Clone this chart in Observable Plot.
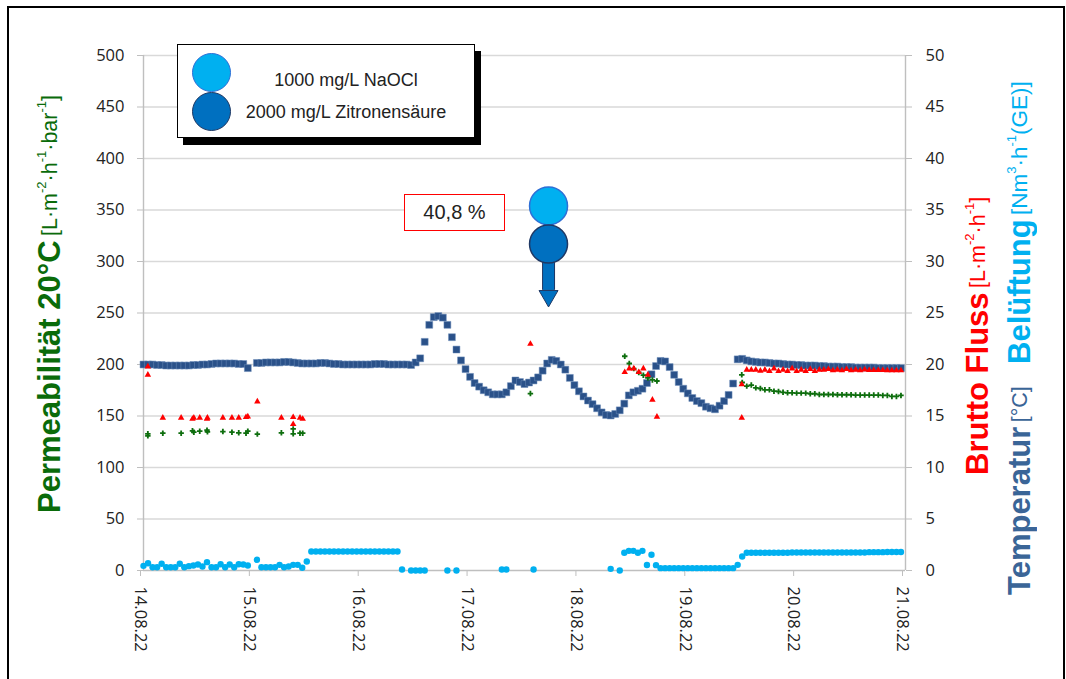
<!DOCTYPE html>
<html>
<head>
<meta charset="utf-8">
<script src="https://cdn.jsdelivr.net/npm/d3@7"></script>
<script src="https://cdn.jsdelivr.net/npm/@observablehq/plot@0.6"></script>
<style>
  html, body { margin: 0; padding: 0; background: #fff; }
  #wrap { position: relative; width: 1066px; height: 679px; overflow: hidden; background: #fff; }
  #chart { position: absolute; left: 0; top: 0; }
  #frame { position: absolute; left: 7px; top: 6px; width: 1054px; height: 700px; border: 2px solid #000; pointer-events: none; }
  .vt { position: absolute; writing-mode: vertical-rl; transform: rotate(180deg); text-align: center; white-space: nowrap; font-family: "Liberation Sans", Arial, sans-serif; }
  .vt b { font-size: 31px; font-weight: bold; }
  .vt .u { font-size: 21.5px; }
  .vt sup { font-size: 13px; vertical-align: 8px; line-height: 0; }
  #legend { position: absolute; left: 177px; top: 44px; width: 296px; height: 92px; border: 1px solid #000; background: #fff; box-shadow: 6px 7px 0 #000; font-family: "Liberation Sans", Arial, sans-serif; font-size: 18px; color: #222; }
  .lc { position: absolute; width: 37px; height: 37px; border-radius: 50%; }
  .lt { position: absolute; left: 40px; width: 256px; text-align: center; }
  #pct { position: absolute; left: 404px; top: 194px; width: 99px; height: 35px; border: 1px solid #ff0000; background: #fff; font-family: "Liberation Sans", Arial, sans-serif; font-size: 20px; color: #222; text-align: center; line-height: 35px; }
</style>
</head>
<body>
<div id="wrap">
  <div id="chart"></div>
  <div id="frame"></div>
  <div class="vt" style="left:28px; top:34px; width:44px; height:540px; line-height:44px; color:#0a6b0a;"><b>Permeabilität 20°C</b> <span class="u">[L·m<sup>-2</sup>·h<sup>-1</sup>·bar<sup>-1</sup>]</span></div>
  <div class="vt" style="left:956px; top:56px; width:44px; height:560px; line-height:44px; color:#ff0000;"><b>Brutto Fluss</b> <span class="u">[L·m<sup>-2</sup>·h<sup>-1</sup>]</span></div>
  <div class="vt" style="left:998px; top:58px; width:44px; height:560px; line-height:44px;"><b style="color:#3a6597">Temperatur</b> <span class="u" style="color:#3a6597">[°C]</span>&nbsp;&nbsp;&nbsp;&nbsp; <b style="color:#00b0f0">Belüftung</b> <span class="u" style="color:#00b0f0; font-size:22.5px">[Nm<sup>3</sup>·h<sup>-1</sup>(GE)]</span></div>
  <div id="legend">
    <div class="lc" style="left:14px; top:8px; background:#00b0f0; border:1.5px solid #2e6fd6;"></div>
    <div class="lc" style="left:14px; top:47px; background:#0070c0; border:1.5px solid #1f3864;"></div>
    <div class="lt" style="top:25px;">1000 mg/L NaOCl</div>
    <div class="lt" style="top:57px;">2000 mg/L Zitronensäure</div>
  </div>
  <div id="pct">40,8 %</div>
</div>
<script>
// ---------- data ----------
// hours since 14.08.22 00:00
const startDate = "2022-08-14";
const endDate = "2022-08-21";
const dayTickLabels = ["14.08.22","15.08.22","16.08.22","17.08.22","18.08.22","19.08.22","20.08.22","21.08.22"];
const leftTicks = [0,50,100,150,200,250,300,350,400,450,500];
const rightTicks = [0,5,10,15,20,25,30,35,40,45,50];

// Temperatur [°C], hourly
const temperature = [
  20.0,20.0,20.0,19.95,19.95,19.9,19.9,19.9,19.9,19.9,
  19.9,19.95,19.95,20.0,20.0,20.05,20.1,20.1,20.1,20.1,
  20.1,20.05,20.05,19.65,null,20.15,20.15,20.2,20.2,20.2,
  20.2,20.25,20.25,20.2,20.15,20.1,20.1,20.1,20.1,20.15,
  20.15,20.1,20.05,20.05,20.0,20.0,20.0,20.0,20.0,20.0,
  20.0,20.05,20.05,20.05,20.0,20.0,20.0,20.0,20.0,19.95,
  20.2,20.6,22.2,23.85,24.6,24.7,24.55,23.85,22.65,21.45,
  20.4,19.55,18.8,18.2,17.85,17.5,17.3,17.1,17.1,17.1,
  17.3,17.9,18.45,18.3,18.1,18.25,18.45,18.75,19.4,20.1,
  20.45,20.35,20.0,19.5,18.7,18.0,17.4,16.9,16.5,16.15,
  15.75,15.35,15.1,15.05,15.2,15.55,16.2,17.0,17.3,17.45,
  17.65,18.2,19.05,19.85,20.35,20.3,19.75,19.0,18.3,17.65,
  17.2,16.75,16.45,16.25,15.9,15.75,15.65,16.0,16.45,17.05,
  18.15,20.5,20.55,20.4,20.3,20.25,20.2,20.2,20.15,20.1,
  20.1,20.05,20.0,20.0,19.95,19.95,19.9,19.9,19.9,19.85,
  19.85,19.8,19.8,19.8,19.75,19.75,19.75,19.7,19.7,19.7,
  19.7,19.7,19.65,19.65,19.65,19.65,19.65,19.65
];

// Belüftung [Nm³/h], hourly
const aeration = [
  0.45,0.71,0.32,0.32,0.65,0.32,0.32,0.32,0.65,0.32,
  0.42,0.49,0.58,0.39,0.81,0.32,0.32,0.61,0.32,0.58,
  0.32,0.61,0.58,0.49,null,1.04,0.32,0.32,0.32,0.32,
  0.55,0.32,0.39,0.55,0.55,0.26,0.87,1.84,1.84,1.84,
  1.84,1.84,1.84,1.84,1.84,1.84,1.84,1.84,1.84,1.84,
  1.84,1.84,1.84,1.84,1.84,1.84,1.84,0.1,null,0,
  0,0,0,null,null,null,null,0,null,0,
  null,null,null,null,null,null,null,null,null,0.1,
  0.1,null,null,null,null,null,0.1,null,null,null,
  null,null,null,null,null,null,null,null,null,null,
  null,null,null,0.16,null,0,1.72,1.91,1.91,1.72,
  1.91,0.53,1.53,0.52,0.23,0.23,0.23,0.23,0.23,0.23,
  0.23,0.23,0.23,0.23,0.23,0.23,0.23,0.23,0.23,0.23,
  0.23,0.55,1.36,1.72,1.72,1.72,1.72,1.72,1.72,1.72,
  1.72,1.72,1.72,1.75,1.75,1.75,1.75,1.75,1.75,1.75,
  1.75,1.75,1.75,1.75,1.75,1.75,1.75,1.75,1.75,1.75,
  1.78,1.78,1.78,1.78,1.8,1.8,1.8,1.8
];

// Permeabilität 20°C [L/(m² h bar)]
const permTime = [0.96,0.96,4.26,8.3,10.8,11.1,12.4,14.0,14.1,17.5,19.5,21.0,22.6,23.0,25.1,30.4,33.0,33.0,34.5,35.1,
  85.3,106.1,107.1,108.1,109.2,110.2,111.2,112.2,113.2,131.9,132.0,
  133,134,135,136,137,138,139,140,141,142,143,144,145,146,147,148,149,150,151,152,153,154,155,156,157,158,159,160,161,162,163,164,165,166,167];
const permeability = [132.7,130.7,133.3,133.3,135.6,134.3,135.3,136.2,134.6,134.9,134.3,133.7,133.3,135.3,132.4,133.7,137.5,132.7,133.3,133.3,
  171.8,208,201,196,192.2,189.6,187,185,184,190,182.5,
  179,180,177.3,176.7,175.4,175.4,174.1,173.8,173,172.5,172.5,172.2,172.2,172.2,171.6,171.6,170.9,170.9,170.9,170.9,
  170.6,170.6,170.6,170.6,170.3,170.3,170.3,170.3,170.3,170.3,170,170,169,169,170];

// Brutto Fluss [L/(m² h)]
const fluxTime = [0.96,0.96,4.26,8.3,10.8,11.1,12.4,14.0,14.1,17.5,19.5,21.0,22.6,23.0,25.1,30.4,33.0,33.0,34.5,35.1,
  85.3,106.1,107.1,108.1,109.2,110.2,111.2,112.2,113.2,131.9,131.9,
  133,134,135,136,137,138,139,140,141,142,143,144,145,146,147,148,149,150,151,152,153,154,155,156,157,158,159,160,161,162,163,164,165,166,167];
const flux = [19.8,19.0,14.82,14.82,14.72,14.82,14.82,14.72,14.82,14.82,14.82,14.82,14.88,14.95,16.4,14.82,14.88,14.2,14.82,14.72,
  22.0,19.26,19.61,19.61,19.26,19.61,19.0,16.57,14.92,18.06,14.82,
  19.48,19.48,19.48,19.39,19.48,19.35,19.61,19.35,19.48,19.35,19.61,19.35,19.48,19.35,19.55,19.35,19.48,19.48,19.55,19.42,
  19.48,19.42,19.55,19.42,19.48,19.42,19.51,19.45,19.45,19.45,19.45,19.42,19.42,19.42,19.42];

// cleaning annotation (hours, left-axis units)
const cleaningTime = 89.3;
const cleaningCircles = [{y: 354, fill: "#00b0f0", stroke: "#2e6fd6"}, {y: 317, fill: "#0070c0", stroke: "#1f3864"}];
const arrowShaft = [299, 272];
const arrowHeadY = 266.5;

// ---------- build ----------
const t0 = Date.UTC(2022, 7, 14);
const toDate = h => new Date(t0 + h * 3600e3);
const tempData = temperature.map((v, i) => ({t: toDate(i), y: v == null ? null : v * 10})).filter(d => d.y != null);
const aerData = aeration.map((v, i) => ({t: toDate(i), y: v == null ? null : v * 10})).filter(d => d.y != null);
const permData = permTime.map((h, i) => ({t: toDate(h), y: permeability[i]}));
const fluxData = fluxTime.map((h, i) => ({t: toDate(h), y: flux[i] * 10}));
const dayTicks = dayTickLabels.map((_, i) => toDate(i * 24));
const cleanDate = toDate(cleaningTime);

const plot = Plot.plot({
  width: 1066,
  height: 679,
  marginLeft: 143,
  marginRight: 161,
  marginTop: 55,
  marginBottom: 109,
  style: {fontFamily: "'Open Sans', sans-serif", fontSize: "16.5px", color: "#222", background: "transparent", overflow: "visible"},
  x: {type: "utc", domain: [new Date(startDate), new Date(endDate)]},
  y: {domain: [0, 500]},
  marks: [
    Plot.gridY(leftTicks.slice(1), {stroke: "#d9d9d9", strokeOpacity: 1, strokeWidth: 1.4}),
    Plot.ruleX([new Date(startDate)], {stroke: "#bfbfbf", strokeWidth: 1.4}),
    Plot.ruleX([new Date(endDate)], {stroke: "#bfbfbf", strokeWidth: 1.4}),
    Plot.ruleY([0], {stroke: "#bfbfbf", strokeWidth: 1.4}),
    Plot.axisY(leftTicks, {anchor: "left", tickSize: 6, tickPadding: 13, label: null, stroke: "#bfbfbf", fill: "#222"}),
    Plot.axisY(leftTicks, {anchor: "right", tickSize: 6, tickPadding: 14, label: null, stroke: "#bfbfbf", fill: "#222",
      tickFormat: (d) => rightTicks[leftTicks.indexOf(d)]}),
    Plot.axisX(dayTicks, {anchor: "bottom", tickSize: 6, tickPadding: 10, tickRotate: 90, label: null, stroke: "#bfbfbf", fill: "#222", dx: -3,
      tickFormat: (d) => dayTickLabels[dayTicks.findIndex(e => +e === +d)]}),
    Plot.dot(tempData, {x: "t", y: "y", symbol: "square", r: 3.9, fill: "#2a5189", stroke: "#6f8fbb", strokeWidth: 0.5}),
    Plot.dot(aerData, {x: "t", y: "y", symbol: "circle", r: 3.2, fill: "#00b0f0"}),
    Plot.dot(permData, {x: "t", y: "y", symbol: "cross", r: 2.3, fill: "#0e6e0e"}),
    Plot.dot(fluxData, {x: "t", y: "y", symbol: "triangle", r: 2.4, fill: "#ff0000"}),
    // cleaning annotation
    Plot.ruleX([cleanDate], {y1: arrowShaft[0], y2: arrowShaft[1], stroke: "#1f3864", strokeWidth: 13}),
    Plot.ruleX([cleanDate], {y1: arrowShaft[0] - 0.5, y2: arrowShaft[1], stroke: "#0070c0", strokeWidth: 11}),
    Plot.dot([cleanDate], {x: d => d, y: arrowHeadY, symbol: "triangle", r: 7.05, rotate: 180, fill: "#0070c0", stroke: "#1f3864", strokeWidth: 1}),
    Plot.dot(cleaningCircles, {x: () => cleanDate, y: "y", r: 19, fill: "fill", stroke: "stroke", strokeWidth: 1.5})
  ]
});
document.getElementById("chart").appendChild(plot);
</script>
</body>
</html>
